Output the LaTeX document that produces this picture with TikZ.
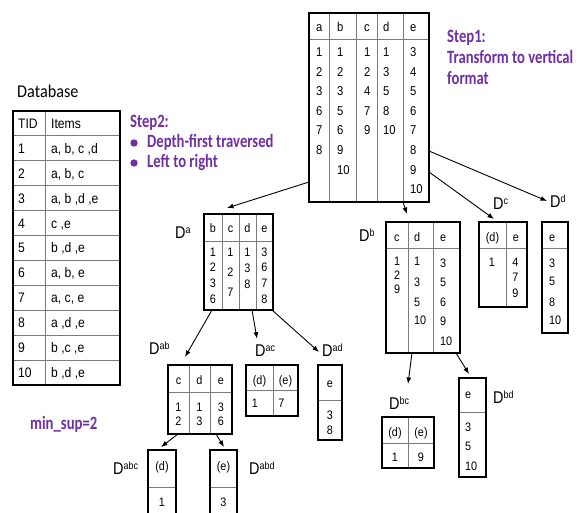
\documentclass[tikz,border=0pt]{standalone}
\usepackage{fontspec}
\setmainfont{Liberation Sans}
\newfontfamily\tabF[FakeStretch=0.88]{Liberation Sans}
\newfontfamily\labF[FakeStretch=0.85]{Liberation Sans}
\newfontfamily\purpF[FakeStretch=0.78]{Carlito}
\newfontfamily\dbF[FakeStretch=0.9]{Carlito}
\usetikzlibrary{arrows.meta}
\definecolor{stepcol}{HTML}{7030A0}
\definecolor{gridcol}{HTML}{7A7A7A}
\newcommand{\Dsup}[1]{D\raisebox{5pt}{\fontsize{10.5}{10.5}\selectfont #1}}
\begin{document}
\begin{tikzpicture}[x=1pt,y=-1pt,
  tbl/.style={draw=black, line width=2.2pt, inner sep=0pt, outer sep=0pt, anchor=north west},
  grid/.style={draw=gridcol, line width=0.8pt},
  cellC/.style={font=\tabF\fontsize{12.3}{12.3}\selectfont, inner sep=0pt, text height=8.8pt, text depth=0pt, anchor=center},
  cellL/.style={cellC, anchor=west},
  mcell/.style={font=\tabF\fontsize{12.8}{12.8}\selectfont, inner sep=0pt, text height=9.2pt, text depth=0pt, anchor=west},
  dcell/.style={font=\tabF\fontsize{13.8}{13.8}\selectfont, inner sep=0pt, text height=9.9pt, text depth=0pt, anchor=west},
  lab/.style={font=\labF\fontsize{17}{17}\selectfont, inner sep=0pt, text height=12.2pt, text depth=0pt, anchor=west},
  purp/.style={font=\purpF\bfseries\fontsize{18.8}{18.8}\selectfont, text=stepcol, inner sep=0pt, anchor=base west},
  arr/.style={-{Latex[length=6.5pt,width=5pt]}, line width=0.9pt},
]
\useasboundingbox (0,0) rectangle (582,513);
\clip (0,0) rectangle (582,513);
\fill[white] (0,0) rectangle (582,513);

% ---------------- texts ----------------
\node[purp] (s1a) at (447,43) {Step1:};
\node[purp] (s1b) at (447,64) {Transform to vertical};
\node[purp] (s1c) at (447,85) {format};
\node[purp] (s2a) at (130,128) {Step2:};
\fill[stepcol] (134,143) circle (3.7);
\fill[stepcol] (134,163) circle (3.7);
\node[purp] (s2b) at (147,148) {Depth-first traversed};
\node[purp] (s2c) at (147,168) {Left to right};
\node[purp] (ms) at (30,430) {min\_sup=2};
\node[font=\dbF\fontsize{18}{18}\selectfont, inner sep=0pt, anchor=base west] (dbt) at (17,98) {Database};

% ---------------- Database table ----------------
\foreach \k in {1,...,10} \draw[grid] (13,{111+24.9*\k}) -- (120,{111+24.9*\k});
\draw[grid] (45,111) -- (45,385);
\node[tbl, minimum width=107pt, minimum height=274pt] (DB) at (13,111) {};
\node[dcell] (dbh1) at (18,123.5) {TID};
\node[dcell] (dbh2) at (51,123.5) {Items};
\foreach \k in {1,...,10} \node[dcell, name=dbt\k] at (18,{123.5+24.9*\k}) {\k};
\node[dcell] (dbi1) at (51,148.4) {a, b, c ,d};
\node[dcell] (dbi2) at (51,173.3) {a, b, c};
\node[dcell] (dbi3) at (51,198.2) {a, b ,d ,e};
\node[dcell] (dbi4) at (51,223.1) {c ,e};
\node[dcell] (dbi5) at (51,248.0) {b ,d ,e};
\node[dcell] (dbi6) at (51,272.9) {a, b, e};
\node[dcell] (dbi7) at (51,297.8) {a, c, e};
\node[dcell] (dbi8) at (51,322.7) {a ,d ,e};
\node[dcell] (dbi9) at (51,347.6) {b ,c ,e};
\node[dcell] (dbi10) at (51,372.5) {b ,d ,e};

% ---------------- Main vertical table ----------------
\draw[grid] (309,39) -- (429,39);
\foreach \xx in {329,356,377,403} \draw[grid] (\xx,13) -- (\xx,202);
\node[tbl, minimum width=120pt, minimum height=189pt] (M) at (309,13) {};
\foreach \t/\xx [count=\i] in {a/316,b/337,c/364,d/383,e/410} \node[mcell, name=Mh\i] at (\xx,27) {\t};
\foreach \t [count=\k] in {1,2,3,6,7,8} \node[mcell, name=Ma\k] at (316,{52+19.6*(\k-1)}) {\t};
\foreach \t [count=\k] in {1,2,3,5,6,9,10} \node[mcell, name=Mb\k] at (337,{52+19.6*(\k-1)}) {\t};
\foreach \t [count=\k] in {1,2,4,7,9} \node[mcell, name=Mc\k] at (364,{52+19.6*(\k-1)}) {\t};
\foreach \t [count=\k] in {1,3,5,8,10} \node[mcell, name=Md\k] at (383,{52+19.6*(\k-1)}) {\t};
\foreach \t [count=\k] in {3,4,5,6,7,8,9,10} \node[mcell, name=Me\k] at (410,{52+19.6*(\k-1)}) {\t};

% ---------------- D^a ----------------
\draw[grid] (204,241) -- (273,241);
\foreach \xx in {222,239,256} \draw[grid] (\xx,214) -- (\xx,310);
\node[tbl, minimum width=69pt, minimum height=96pt] (Da) at (204,214) {};
\foreach \t/\xx [count=\i] in {b/213,c/230.5,d/247.5,e/264.5} \node[cellC, name=Dah\i] at (\xx,228) {\t};
\foreach \t/\yy [count=\k] in {1/252,2/267,3/283,6/299} \node[cellC, name=Dab\k] at (213,\yy) {\t};
\foreach \t/\yy [count=\k] in {1/252,2/272,7/292} \node[cellC, name=Dac\k] at (230.5,\yy) {\t};
\foreach \t/\yy [count=\k] in {1/252,3/268,8/284} \node[cellC, name=Dad\k] at (247.5,\yy) {\t};
\foreach \t/\yy [count=\k] in {3/252,6/267,7/283,8/299} \node[cellC, name=Dae\k] at (264.5,\yy) {\t};
\node[lab] (Dal) at (175,232) {\Dsup{a}};

% ---------------- D^b ----------------
\draw[grid] (386,248) -- (460,248);
\foreach \xx in {408,433} \draw[grid] (\xx,222) -- (\xx,353);
\node[tbl, minimum width=74pt, minimum height=131pt] (Db) at (386,222) {};
\foreach \t/\xx [count=\i] in {c/394,d/414,e/440} \node[cellL, name=Dbh\i] at (\xx,237) {\t};
\foreach \t/\yy [count=\k] in {1/261,2/275,9/289} \node[cellL, name=Dbc\k] at (394,\yy) {\t};
\foreach \t/\yy [count=\k] in {1/261,3/282,5/302,10/320} \node[cellL, name=Dbd\k] at (414,\yy) {\t};
\foreach \t/\yy [count=\k] in {3/263,5/282,6/302,9/321,10/341} \node[cellL, name=Dbe\k] at (440,\yy) {\t};
\node[lab] (Dbl) at (359,235) {\Dsup{b}};

% ---------------- D^c ----------------
\draw[grid] (479,248) -- (527,248);
\draw[grid] (506,222) -- (506,307);
\node[tbl, minimum width=48pt, minimum height=85pt] (Dc) at (479,222) {};
\node[cellC] (Dch1) at (492.5,237) {(d)};
\node[cellC] (Dch2) at (516,237) {e};
\node[cellC] (Dcd1) at (492,262) {1};
\foreach \t/\yy [count=\k] in {4/262,7/277,9/293} \node[cellC, name=Dce\k] at (515.5,\yy) {\t};
\node[lab] (Dcl) at (493,203) {\Dsup{c}};

% ---------------- D^d ----------------
\draw[grid] (542,248) -- (568,248);
\node[tbl, minimum width=26pt, minimum height=111pt] (Dd) at (542,222) {};
\node[cellL] (Ddh1) at (549,237) {e};
\foreach \t/\yy [count=\k] in {3/263,5/281,8/302,10/320} \node[cellL, name=Dde\k] at (549,\yy) {\t};
\node[lab] (Ddl) at (550,201) {\Dsup{d}};

% ---------------- D^ab ----------------
\draw[grid] (168,392) -- (232,392);
\foreach \xx in {189,210} \draw[grid] (\xx,365) -- (\xx,434);
\node[tbl, minimum width=64pt, minimum height=69pt] (Dab) at (168,365) {};
\foreach \t/\xx [count=\i] in {c/178.5,d/199.5,e/221} \node[cellC, name=Dabh\i] at (\xx,380) {\t};
\foreach \t/\xx [count=\i] in {1/178.5,1/199.5,3/221} \node[cellC, name=Dabr\i] at (\xx,407) {\t};
\foreach \t/\xx [count=\i] in {2/178.5,3/199.5,6/221} \node[cellC, name=Dabs\i] at (\xx,421) {\t};
\node[lab] (Dabl) at (149,348) {\Dsup{ab}};

% ---------------- D^ac ----------------
\draw[grid] (246,390) -- (298,390);
\draw[grid] (273,365) -- (273,416);
\node[tbl, minimum width=52pt, minimum height=51pt] (Dac) at (246,365) {};
\node[cellC] (Dach1) at (259.5,380) {(d)};
\node[cellC] (Dach2) at (285.5,380) {(e)};
\node[cellC] (Dacv1) at (255,403) {1};
\node[cellC] (Dacv2) at (281.5,403) {7};
\node[lab] (Dacl) at (255,350) {\Dsup{ac}};

% ---------------- D^ad ----------------
\draw[grid] (318,400) -- (342,400);
\node[tbl, minimum width=24pt, minimum height=75pt] (Dad) at (318,365) {};
\node[cellC] (Dadh1) at (330,383) {e};
\node[cellC] (Dadv1) at (330,415) {3};
\node[cellC] (Dadv2) at (330,430) {8};
\node[lab] (Dadl) at (322,350) {\Dsup{ad}};

% ---------------- D^abc, D^abd ----------------
\draw[grid] (148,487) -- (176,487);
\node[tbl, minimum width=28pt, minimum height=80pt] (Dabc) at (148,450) {};
\node[cellC] (Dabch1) at (162,466) {(d)};
\node[cellC] (Dabcv1) at (162,502) {1};
\node[lab] (Dabcl) at (113,468) {\Dsup{abc}};

\draw[grid] (210,487) -- (237,487);
\node[tbl, minimum width=27pt, minimum height=80pt] (Dabd) at (210,450) {};
\node[cellC] (Dabdh1) at (223.5,466) {(e)};
\node[cellC] (Dabdv1) at (223.5,502) {3};
\node[lab] (Dabdl) at (249,468) {\Dsup{abd}};

% ---------------- D^bc, D^bd ----------------
\draw[grid] (382,443) -- (434,443);
\draw[grid] (408,417) -- (408,468);
\node[tbl, minimum width=52pt, minimum height=51pt] (Dbc) at (382,417) {};
\node[cellC] (Dbch1) at (395,432) {(d)};
\node[cellC] (Dbch2) at (421,432) {(e)};
\node[cellC] (Dbcv1) at (395,457) {1};
\node[cellC] (Dbcv2) at (421,457) {9};
\node[lab] (Dbcl) at (389,403) {\Dsup{bc}};

\draw[grid] (459,412) -- (486,412);
\node[tbl, minimum width=27pt, minimum height=99pt] (Dbd) at (459,378) {};
\node[cellL] (Dbdh1) at (465,394) {e};
\node[cellL] (Dbdv1) at (465,427) {3};
\node[cellL] (Dbdv2) at (465,446) {5};
\node[cellL] (Dbdv3) at (465,466) {10};
\node[lab] (Dbdl) at (493,397) {\Dsup{bd}};

% ---------------- arrows ----------------
\draw[arr] ([yshift=20pt]M.south west) -- ([xshift=-11.5pt,yshift=6pt]Da.north);
\draw[arr] ([xshift=94pt]M.south west) -- ([xshift=-16pt,yshift=8pt]Db.north);
\draw[arr] ([yshift=30pt]M.south east) -- ([xshift=-9pt,yshift=3pt]Dc.north);
\draw[arr] ([yshift=51pt]M.south east) -- ([xshift=-3pt]Ddl.west);
\draw[arr] ([xshift=8pt]Da.south west) -- ([xshift=-15pt,yshift=8pt]Dab.north);
\draw[arr] ([xshift=48pt]Da.south west) -- ([xshift=2pt,yshift=5pt]Dacl.north west);
\draw[arr] ([xshift=-1pt]Da.south east) -- ([xshift=-3pt,yshift=-2pt]Dadl.west);
\draw[arr] ([xshift=10pt]Dab.south west) -- ([xshift=13pt,yshift=3pt]Dabc.north west);
\draw[arr] ([xshift=48pt]Dab.south west) -- ([xshift=14pt,yshift=3pt]Dabd.north west);
\draw[arr] ([xshift=26pt]Db.south west) -- ([xshift=19pt,yshift=19pt]Dbcl.west);
\draw[arr] ([xshift=70pt]Db.south west) -- ([xshift=10pt,yshift=4pt]Dbd.north west);
\end{tikzpicture}
\end{document}
